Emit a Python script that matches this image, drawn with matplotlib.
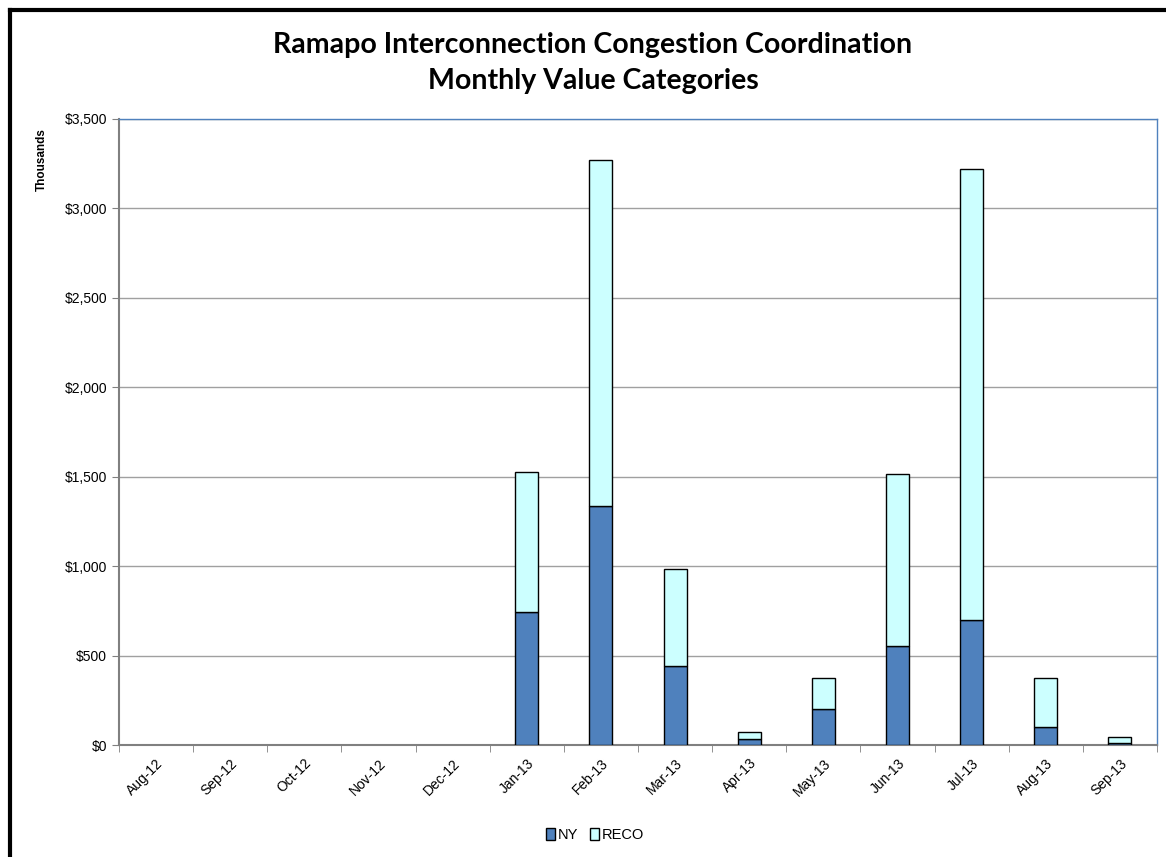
import matplotlib
matplotlib.use('Agg')
import matplotlib.pyplot as plt
import numpy as np
from matplotlib.lines import Line2D
from matplotlib.patches import Patch
from matplotlib.ticker import FuncFormatter

# datos (miles de $)
months = ['Aug-12', 'Sep-12', 'Oct-12', 'Nov-12', 'Dec-12', 'Jan-13', 'Feb-13',
          'Mar-13', 'Apr-13', 'May-13', 'Jun-13', 'Jul-13', 'Aug-13', 'Sep-13']
ny = [0, 0, 0, 0, 0, 741, 1335, 444, 36, 201, 552, 697, 99, 13]
total = [0, 0, 0, 0, 0, 1528, 3270, 985, 71, 376, 1517, 3219, 376, 43]
reco = [t - n for t, n in zip(total, ny)]

c_ny = '#4F81BD'
c_reco = '#CCFFFF'

plt.rcParams['font.family'] = ['Liberation Sans', 'DejaVu Sans']

fig = plt.figure(figsize=(11.66, 8.57), dpi=100)
ax = fig.add_axes([119 / 1166, 112 / 857, 1038 / 1166, 626 / 857])

x = np.arange(len(months))
w = 0.31
# sin borde en los meses vacios
lw_ny = [1 if v > 0 else 0 for v in ny]
lw_reco = [1 if v > 0 else 0 for v in reco]
ax.bar(x, ny, w, color=c_ny, edgecolor='black', linewidth=lw_ny, zorder=3)
ax.bar(x, reco, w, bottom=ny, color=c_reco, edgecolor='black', linewidth=lw_reco, zorder=3)

ax.set_xlim(-0.5, len(months) - 0.5)
ax.set_ylim(0, 3500)
ax.set_yticks(np.arange(0, 3501, 500))
ax.yaxis.set_major_formatter(FuncFormatter(lambda v, p: '${:,.0f}'.format(v)))
ax.yaxis.grid(True, color='#A0A0A0', linewidth=1, zorder=0)

ax.set_xticks(x)
ax.set_xticklabels(months, rotation=45, ha='right', rotation_mode='anchor', fontsize=10)
ax.set_xticks(np.arange(-0.5, len(months), 1), minor=True)
ax.tick_params(axis='x', which='major', length=0, pad=8)
ax.tick_params(axis='x', which='minor', length=5, color='#808080', direction='out')
ax.tick_params(axis='y', length=5, color='#808080', labelsize=10)

for s in ['left', 'bottom']:
    ax.spines[s].set_color('#808080')
    ax.spines[s].set_linewidth(1.5)
for s in ['top', 'right']:
    ax.spines[s].set_color('#4F81BD')
    ax.spines[s].set_linewidth(1)

fig.text(593 / 1166, 1 - 63 / 857, 'Ramapo Interconnection Congestion Coordination\nMonthly Value Categories',
         ha='center', va='center', fontsize=20.5, fontweight='bold', family=['Lato', 'DejaVu Sans'],
         linespacing=1.45)
fig.text(42 / 1166, 1 - 160 / 857, 'Thousands', rotation=90, ha='center', va='center',
         fontsize=8.5, fontweight='bold')

handles = [Patch(facecolor=c_ny, edgecolor='black', linewidth=1, label='NY'),
           Patch(facecolor=c_reco, edgecolor='black', linewidth=1, label='RECO')]
fig.legend(handles=handles, loc='center', bbox_to_anchor=(595 / 1166, (857 - 835) / 857),
           frameon=False, ncol=2, fontsize=10.5, handlelength=0.6, handleheight=0.9,
           handletextpad=0.2, columnspacing=0.8)

# marco negro exterior (solo lados izquierdo y superior visibles)
fig.add_artist(Line2D([10 / 1166, 10 / 1166], [0, 1 - 10 / 857], transform=fig.transFigure,
                      color='black', linewidth=3))
fig.add_artist(Line2D([10 / 1166, 1], [1 - 10 / 857, 1 - 10 / 857], transform=fig.transFigure,
                      color='black', linewidth=3))

fig.savefig('out.png', dpi=100)
